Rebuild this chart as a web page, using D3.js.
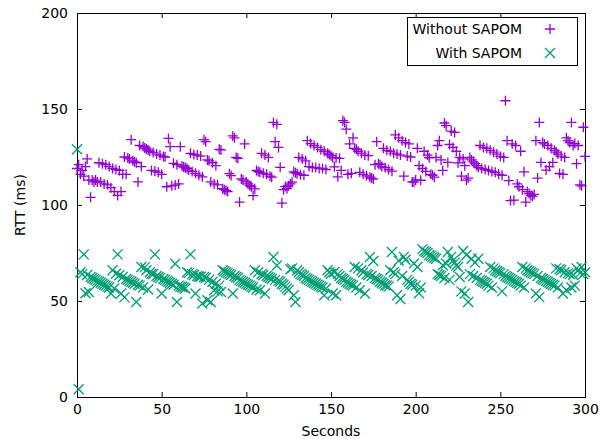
<!DOCTYPE html>
<html lang="en">
<head>
<meta charset="utf-8">
<title>RTT</title>
<script src="https://cdn.jsdelivr.net/npm/d3@7"></script>
<style>
  body { margin: 0; background: #fff; }
  text { font-family: "DejaVu Sans", sans-serif; font-size: 14px; fill: #000; }
</style>
</head>
<body>
<div id="chart"></div>
<script>
// RTT per second, one value for each second 0..300
var withoutSapom = [
  119, 121, 116, 118, 115, 120, 124, 113, 104, 113,
  112, 113, 112, 122, 112, 121.5, 111, 121, 110.5, 120,
  109, 119, 107, 118.5, 105, 118, 107, 116, 125, 116,
  124.5, 124, 134, 123, 122.5, 122, 112, 131, 120, 130.5,
  129.7, 129.2, 128.7, 128, 118, 127.4, 117.7, 126.5, 117, 126,
  116, 125.3, 125, 109.5, 134.7, 130.4, 110, 121.7, 110.4, 121,
  111, 130.4, 120.3, 119.8, 119.4, 119, 118.2, 126.9, 117.5, 126.3,
  116.5, 126, 115.5, 125.5, 114.7, 134, 133, 123.5, 123, 112,
  122, 111, 120.5, 110.5, 129, 128.7, 108.5, 108, 107.5, 107,
  116.3, 115.3, 136, 135, 124.8, 124.3, 101.5, 113.6, 113, 131.8,
  112, 111, 110.1, 109.5, 104.9, 108.4, 118, 117.5, 117, 126.9,
  116.5, 126, 116, 124.8, 115, 114.5, 143, 133, 142, 130,
  119.6, 101, 108, 109.6, 108.5, 110, 111, 111.9, 117.3, 116.8,
  116.3, 124.8, 115.8, 124, 115.5, 123, 133.5, 120, 132, 119.5,
  131, 119.5, 130, 119, 128.8, 119, 128, 118.5, 127, 126.3,
  125.7, 124.8, 119.9, 124.5, 114.7, 124.3, 118, 143.9, 143, 139.5,
  116, 131.8, 116.5, 135, 129.5, 129, 128, 117, 127, 116,
  126, 115.2, 125.7, 114.5, 114, 113.5, 121, 133, 121.5, 121,
  120, 129.5, 119.5, 128.5, 118.5, 128, 117.6, 127, 136.5, 126.5,
  135, 126, 133.5, 115, 132.5, 125.5, 131.8, 125, 112, 111.9,
  113, 129.5, 120.5, 112.9, 119, 128, 117.5, 126, 124.6, 116,
  115.5, 114.5, 124.8, 131, 133.5, 123.5, 118, 142.7, 141.3, 122.2,
  131.5, 138.5, 130, 137.8, 128, 121.9, 124.8, 115, 124, 120.5,
  113, 114, 124.8, 123.5, 122.5, 121.5, 120.5, 119.6, 131, 119,
  130, 118.5, 129.5, 118, 128.5, 117.5, 127.5, 117, 126.5, 116,
  125.3, 115.5, 124.8, 154.3, 133.5, 112.7, 102.3, 131.8, 102.5, 131,
  111, 109.5, 128, 108, 117.3, 101.5, 107, 106, 105, 104.5,
  105.5, 133.5, 114, 143, 122.2, 132.5, 131.8, 118.2, 131, 120,
  129.5, 122.2, 128.5, 127.5, 126.5, 116.4, 125.5, 116, 124.8, 135,
  133.5, 132.5, 143, 131, 132, 121.5, 131, 110.5, 110, 140.5,
  125.3
];
var withSapom = [
  129, 4, 65, 64, 74.3, 54, 63.5, 54.7, 62.5, 62,
  61.5, 61, 60.5, 60, 59.5, 59, 58.5, 58, 57.5, 57,
  53.9, 66, 56.5, 64.2, 74.3, 63.4, 53.9, 62.5, 51.9, 61.5,
  61, 60.5, 60, 59.5, 59, 49.5, 58.5, 58, 67.7, 57,
  67.5, 66, 56, 65, 64.2, 64, 74.3, 63, 62.5, 62,
  53.9, 61.5, 61, 60.5, 60, 59.5, 59, 58.5, 69.4, 49.5,
  58, 57.5, 57.3, 57, 56.5, 65, 64.5, 74.3, 64, 63.5,
  53.9, 63, 62.8, 62.6, 48.7, 62.5, 62, 50.4, 61, 49.5,
  60, 55.6, 59, 55, 58, 54.7, 66, 65.5, 65, 64.5,
  64, 63.5, 53.9, 63, 62.5, 62, 61, 60.5, 60, 59.5,
  59, 58.5, 58, 57.5, 57, 66, 56, 65, 55.6, 64,
  63.5, 53.9, 63, 62.5, 62, 61.5, 72.9, 61, 68.5, 60.5,
  60, 59, 58.5, 57.5, 56.5, 55.6, 66.5, 67, 53, 49.5,
  66, 65, 64, 63.5, 63, 62, 61.5, 61, 60.5, 60,
  59.5, 59, 58.5, 58, 57.5, 57, 53, 56.5, 66, 65,
  64.2, 53.9, 65, 53, 64, 63, 62, 61.5, 61, 60,
  59.5, 59, 58.5, 58, 67.7, 57, 67, 55.6, 66, 65,
  53.9, 64, 63.5, 72.9, 63, 70.8, 62, 61.5, 61, 60,
  59.5, 59, 58.2, 58, 57.5, 66, 75.5, 65, 64, 53,
  71, 51, 63, 73, 71.5, 61, 60, 59, 58.5, 69.5,
  58, 67.7, 54, 57, 77, 76, 75.5, 75, 74, 73.5,
  73, 72.5, 72, 64, 63.5, 63, 68.6, 62, 69.5, 75.5,
  61, 73, 71, 70, 68.5, 67.7, 62.5, 55, 76, 53.9,
  74, 49.5, 64, 72, 63, 70, 62, 72, 61, 60.5,
  60, 59.5, 59, 58, 67.7, 57, 67, 66, 65.5, 65,
  64.5, 55, 64, 63, 62.5, 62, 61.5, 61, 60.5, 60,
  59.5, 59, 58, 67.7, 57, 67, 66, 65.5, 65, 64.5,
  64, 53.9, 63, 52, 62, 61.5, 61, 60.5, 60, 59.5,
  59, 58.5, 58, 67, 57, 66.5, 66, 53.9, 65, 55.6,
  64.5, 64, 57, 63.5, 58, 67, 66, 64.5, 67.7, 64,
  65
];
var seriesNames = ["Without SAPOM", "With SAPOM"];
var xTicks = [0, 50, 100, 150, 200, 250, 300];
var yTicks = [0, 50, 100, 150, 200];

var W = 616, H = 439;
var margin = { top: 13, right: 31, bottom: 42, left: 77 };
var width = W - margin.left - margin.right,
    height = H - margin.top - margin.bottom;

var colors = ["#9400d3", "#009e73"];

var svg = d3.select("#chart").append("svg")
    .attr("width", W)
    .attr("height", H);
var g = svg.append("g")
    .attr("transform", "translate(" + margin.left + "," + margin.top + ")");

var x = d3.scaleLinear().domain([0, 300]).range([0, width]);
var y = d3.scaleLinear().domain([0, 200]).range([height, 0]);

// axes, ticks pointing inward, mirrored on top / right
function styleAxis(sel) {
    sel.select(".domain").remove();
    sel.selectAll("line").attr("stroke", "#000");
    sel.selectAll("text").style("font-size", "14px");
}
g.append("g")
    .attr("transform", "translate(0," + height + ")")
    .call(d3.axisBottom(x).tickValues(xTicks).tickSizeInner(-5).tickSizeOuter(0).tickPadding(7))
    .call(styleAxis);
g.append("g")
    .call(d3.axisTop(x).tickValues(xTicks).tickSizeInner(-5).tickSizeOuter(0).tickFormat(""))
    .call(styleAxis);
g.append("g")
    .call(d3.axisLeft(y).tickValues(yTicks).tickSizeInner(-5).tickSizeOuter(0).tickPadding(9))
    .call(styleAxis);
g.append("g")
    .attr("transform", "translate(" + width + ",0)")
    .call(d3.axisRight(y).tickValues(yTicks).tickSizeInner(-5).tickSizeOuter(0).tickFormat(""))
    .call(styleAxis);

g.append("rect")
    .attr("x", 0.5).attr("y", 0.5)
    .attr("width", width).attr("height", height)
    .attr("fill", "none")
    .attr("stroke", "#000");

// markers
var s = 5;
var plusPath = "M" + (-s) + ",0H" + s + "M0," + (-s) + "V" + s;
var crossPath = "M" + (-s) + "," + (-s) + "L" + s + "," + s + "M" + (-s) + "," + s + "L" + s + "," + (-s);

g.append("g").selectAll("path")
    .data(withoutSapom)
    .enter().append("path")
    .attr("transform", function(d, i) { return "translate(" + x(i) + "," + y(d) + ")"; })
    .attr("d", plusPath)
    .attr("stroke", colors[0])
    .attr("stroke-width", 1.3)
    .attr("fill", "none");

g.append("g").selectAll("path")
    .data(withSapom)
    .enter().append("path")
    .attr("transform", function(d, i) { return "translate(" + x(i) + "," + y(d) + ")"; })
    .attr("d", crossPath)
    .attr("stroke", colors[1])
    .attr("stroke-width", 1.3)
    .attr("fill", "none");

// axis labels
svg.append("text")
    .attr("x", margin.left + width / 2)
    .attr("y", 436)
    .attr("text-anchor", "middle")
    .text("Seconds");
svg.append("text")
    .attr("transform", "translate(25," + (margin.top + height / 2) + ") rotate(-90)")
    .attr("text-anchor", "middle")
    .text("RTT (ms)");

// legend
var legend = svg.append("g");
legend.append("rect")
    .attr("x", 407.5).attr("y", 17.5)
    .attr("width", 170).attr("height", 48)
    .attr("fill", "#fff")
    .attr("stroke", "#000");
var item = legend.selectAll(".leyenda")
    .data(seriesNames)
    .enter().append("g")
    .attr("class", "leyenda")
    .attr("transform", function(d, i) { return "translate(0," + (29 + i * 24) + ")"; });
item.append("text")
    .attr("x", 522)
    .attr("dy", "0.35em")
    .attr("text-anchor", "end")
    .text(function(d) { return d; });
item.append("path")
    .attr("transform", "translate(550,0)")
    .attr("d", function(d, i) { return i === 0 ? plusPath : crossPath; })
    .attr("stroke", function(d, i) { return colors[i]; })
    .attr("stroke-width", 1.3)
    .attr("fill", "none");
</script>
</body>
</html>
